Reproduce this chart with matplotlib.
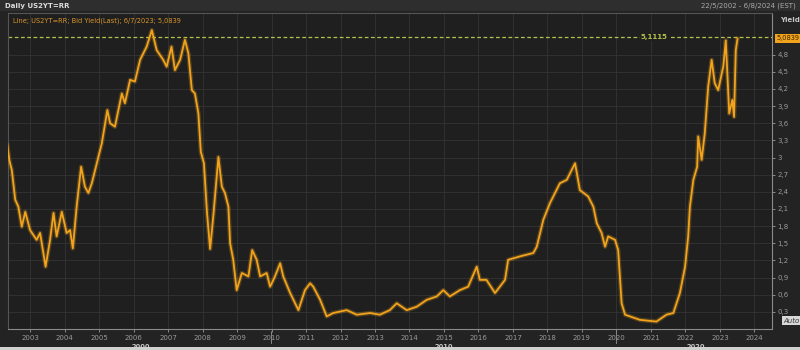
import matplotlib
matplotlib.use("Agg")
import numpy as np
import matplotlib.pyplot as plt
from matplotlib.patches import Rectangle

# values (decimal year, yield %)
years = [2002.34, 2002.40, 2002.47, 2002.57, 2002.66, 2002.76, 2002.86, 2003.00,
         2003.19, 2003.29, 2003.45, 2003.58, 2003.68, 2003.77, 2003.92, 2004.06,
         2004.16, 2004.24, 2004.35, 2004.48, 2004.59, 2004.69, 2004.79, 2004.98,
         2005.08, 2005.24, 2005.32, 2005.46, 2005.66, 2005.75, 2005.90, 2006.04,
         2006.19, 2006.38, 2006.53, 2006.67, 2006.86, 2006.96, 2007.10, 2007.20,
         2007.35, 2007.49, 2007.59, 2007.69, 2007.78, 2007.88, 2007.95, 2008.04,
         2008.13, 2008.22, 2008.32, 2008.46, 2008.56, 2008.65, 2008.75, 2008.80,
         2008.89, 2008.99, 2009.14, 2009.33, 2009.44, 2009.57, 2009.67, 2009.86,
         2009.96, 2010.10, 2010.25, 2010.34, 2010.54, 2010.78, 2010.97, 2011.12,
         2011.21, 2011.41, 2011.60, 2011.79, 2012.18, 2012.47, 2012.86, 2013.14,
         2013.43, 2013.63, 2013.92, 2014.21, 2014.50, 2014.79, 2014.98, 2015.17,
         2015.46, 2015.70, 2015.95, 2016.04, 2016.23, 2016.48, 2016.77, 2016.86,
         2017.20, 2017.59, 2017.69, 2017.88, 2018.07, 2018.36, 2018.56, 2018.80,
         2018.94, 2019.18, 2019.33, 2019.43, 2019.57, 2019.67, 2019.76, 2019.96,
         2020.05, 2020.15, 2020.25, 2020.68, 2021.16, 2021.45, 2021.65, 2021.84,
         2021.99, 2022.08, 2022.13, 2022.23, 2022.34, 2022.37, 2022.47, 2022.56,
         2022.66, 2022.76, 2022.85, 2022.95, 2023.10, 2023.17, 2023.27, 2023.36,
         2023.41, 2023.46, 2023.51]
yields = [3.22, 2.95, 2.78, 2.26, 2.14, 1.79, 2.05, 1.73,
          1.56, 1.68, 1.09, 1.56, 2.03, 1.62, 2.05, 1.68,
          1.73, 1.41, 2.14, 2.84, 2.49, 2.38, 2.55, 3.01,
          3.25, 3.83, 3.60, 3.54, 4.12, 3.95, 4.36, 4.33,
          4.71, 4.94, 5.23, 4.88, 4.71, 4.59, 4.94, 4.53,
          4.71, 5.06, 4.82, 4.18, 4.12, 3.77, 3.10, 2.90,
          2.03, 1.40, 2.03, 3.01, 2.49, 2.38, 2.14, 1.50,
          1.21, 0.68, 0.98, 0.92, 1.38, 1.21, 0.92, 0.98,
          0.74, 0.92, 1.15, 0.92, 0.63, 0.33, 0.68, 0.80,
          0.74, 0.51, 0.22, 0.28, 0.33, 0.25, 0.28, 0.25,
          0.33, 0.45, 0.33, 0.39, 0.51, 0.57, 0.68, 0.57,
          0.68, 0.74, 1.09, 0.86, 0.86, 0.63, 0.86, 1.21,
          1.27, 1.33, 1.44, 1.91, 2.20, 2.55, 2.61, 2.90,
          2.43, 2.32, 2.14, 1.85, 1.68, 1.44, 1.62, 1.56,
          1.38, 0.45, 0.25, 0.16, 0.13, 0.25, 0.28, 0.63,
          1.09, 1.62, 2.14, 2.61, 2.84, 3.37, 2.96, 3.42,
          4.24, 4.71, 4.30, 4.18, 4.60, 5.05, 3.77, 4.01,
          3.71, 4.88, 5.08]

year_ticks = list(range(2003, 2025))
yield_ticks = [0.3, 0.6, 0.9, 1.2, 1.5, 1.8, 2.1, 2.4, 2.7, 3.0, 3.3, 3.6, 3.9, 4.2, 4.5, 4.8]
hi_line = 5.1115
last_val = 5.0839
decades = [(2006.2, "2000"), (2015.0, "2010"), (2022.3, "2020")]
decade_marks = [2010, 2020]

bg = "#1f1f1f"
orange = "#f2a31c"
txt = "#c8c8c8"

def fmt(v):
    s = ("%.1f" % v).rstrip("0").rstrip(".")
    return s.replace(".", ",")

fig = plt.figure(figsize=(8, 3.5), dpi=100, facecolor="#232323")
ax = fig.add_axes([0.01, 0.06, 0.955, 0.903])
ax.set_facecolor(bg)

# glow + line
ax.plot(years, yields, color=orange, lw=3.2, alpha=0.25, zorder=3)
ax.plot(years, yields, color=orange, lw=1.3, zorder=4)

ax.axhline(hi_line, color="#b5c24a", lw=0.9, ls=(0, (3, 2)), zorder=2)
ax.text(2021.1, hi_line, "5,1115", color="#b5c24a", fontsize=5,
        ha="center", va="center", fontweight="bold",
        bbox=dict(boxstyle="square,pad=0.15", fc=bg, ec="none"), zorder=5)

ax.set_xlim(2002.36, 2024.51)
ax.set_ylim(0.0, 5.53)
ax.set_xticks(year_ticks)
ax.set_xticklabels([str(y) for y in year_ticks])
ax.set_yticks(yield_ticks)
ax.set_yticklabels([fmt(v) for v in yield_ticks])
ax.yaxis.tick_right()
ax.tick_params(axis="both", colors="#9a9a9a", labelsize=5, length=2, width=0.6)
ax.tick_params(axis="x", pad=2)
ax.tick_params(axis="y", pad=2)
ax.grid(True, color="#343434", lw=0.6)
ax.set_axisbelow(True)

for side in ["top", "left"]:
    ax.spines[side].set_color("#555555")
    ax.spines[side].set_linewidth(0.8)
for side in ["bottom", "right"]:
    ax.spines[side].set_color("#8a8a8a")
    ax.spines[side].set_linewidth(0.8)

# last value box on the right axis
ax.annotate("5,0839", xy=(1.0, last_val), xycoords=("axes fraction", "data"),
            xytext=(3, 0), textcoords="offset points", fontsize=4.8, color="#3a2500",
            va="center", ha="left",
            bbox=dict(boxstyle="square,pad=0.2", fc=orange, ec="none"), annotation_clip=False)
ax.annotate("Yield", xy=(1.0, 1.0), xycoords="axes fraction", xytext=(6, -3),
            textcoords="offset points", fontsize=5, color=txt, fontweight="bold",
            va="top", ha="left")
ax.annotate("Auto", xy=(1.0, 0.0), xycoords="axes fraction", xytext=(14, 6),
            textcoords="offset points", fontsize=5, color="#333333", style="italic",
            va="center", ha="center",
            bbox=dict(boxstyle="square,pad=0.2", fc="#d8d8d8", ec="none"), annotation_clip=False)

# decade labels below year labels
for x, lab in decades:
    ax.annotate(lab, xy=(x, 0), xycoords=("data", "axes fraction"), xytext=(0, -13),
                textcoords="offset points", fontsize=4.8, color=txt, fontweight="bold",
                ha="center", va="center", annotation_clip=False)
for x in decade_marks:
    ax.annotate("", xy=(x, 0), xycoords=("data", "axes fraction"), xytext=(x, -0.055),
                textcoords=("data", "axes fraction"),
                arrowprops=dict(arrowstyle="-", color="#8a8a8a", lw=0.7), annotation_clip=False)

ax.text(0.006, 0.985, "Line; US2YT=RR; Bid Yield(Last); 6/7/2023; 5,0839", transform=ax.transAxes,
        fontsize=4.8, color="#d9962a", ha="left", va="top")

# top bar
fig.patches.append(Rectangle((0, 0.968), 1, 0.032, transform=fig.transFigure,
                             fc="#2e2e2e", ec="none", zorder=0))
fig.text(0.006, 0.984, "Daily US2YT=RR", fontsize=5, color="#dddddd", fontweight="bold",
         ha="left", va="center")
fig.text(0.995, 0.984, "22/5/2002 - 6/8/2024 (EST)", fontsize=5, color="#aaaaaa",
         ha="right", va="center")
# bottom strip
fig.patches.append(Rectangle((0, 0), 1, 0.01, transform=fig.transFigure,
                             fc="#d0d0d0", ec="none", zorder=0))

fig.savefig("out.png", dpi=100, facecolor=fig.get_facecolor())
